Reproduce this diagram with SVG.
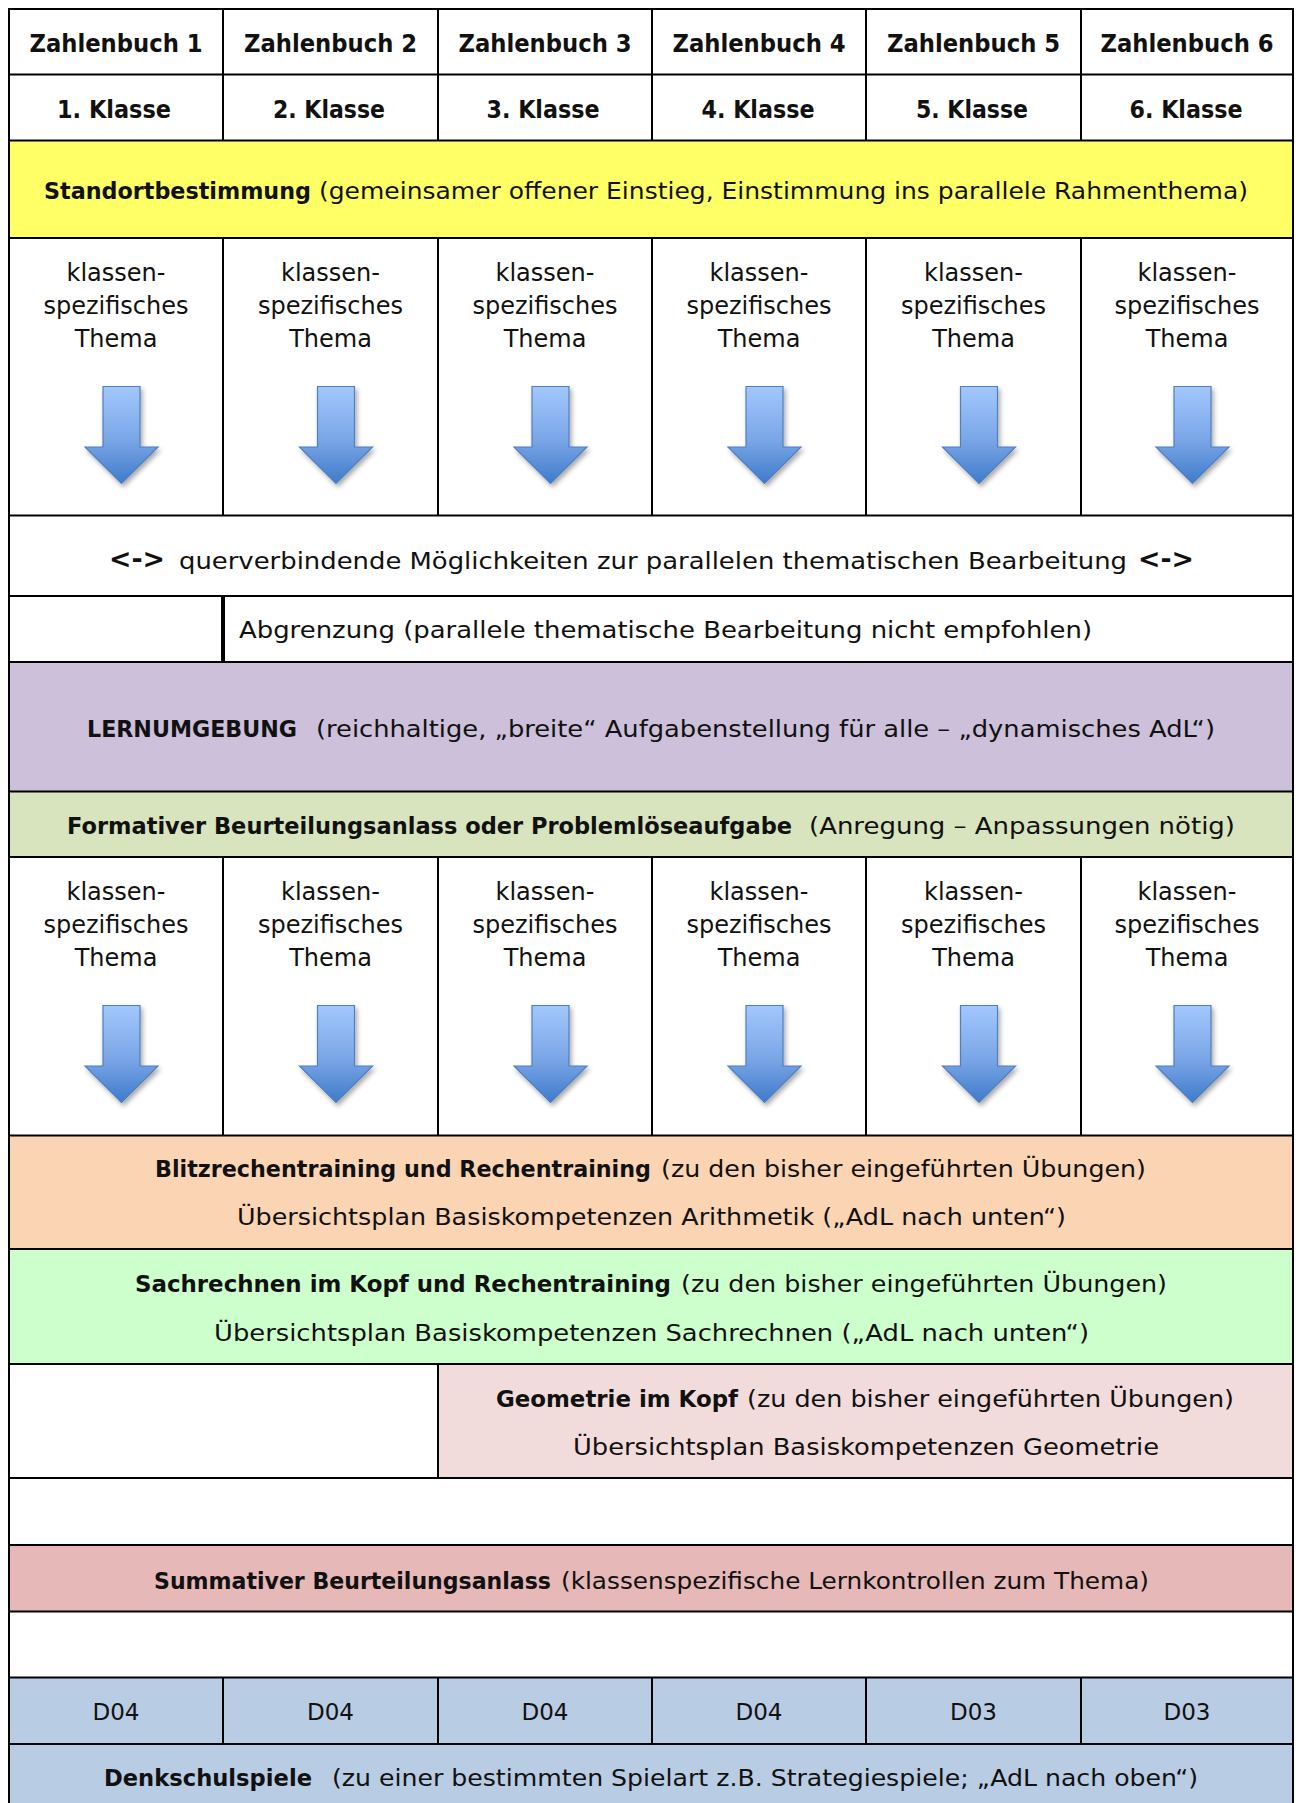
<svg xmlns="http://www.w3.org/2000/svg" xmlns:xlink="http://www.w3.org/1999/xlink" width="1298" height="1803" viewBox="0 0 1298 1803">
<style>
text{font-family:"DejaVu Sans","Liberation Sans",sans-serif;fill:#111;}
.b{font-weight:bold;}
.h{font-size:24px;font-weight:bold;}
.t{font-size:23.5px;}
.a{font-size:27px;font-weight:bold;}
.k{font-size:24px;text-anchor:middle;}
.m{text-anchor:middle;}
.ln{stroke:#000;stroke-width:2;fill:none;}
.thick{stroke:#000;stroke-width:4;}
</style>
<defs>
<linearGradient id="ag" x1="0" y1="0" x2="0" y2="1">
<stop offset="0" stop-color="#a3c7fd"/>
<stop offset="0.55" stop-color="#7aa6e6"/>
<stop offset="1" stop-color="#3f7bcb"/>
</linearGradient>
<filter id="sh" x="-30%" y="-20%" width="170%" height="150%">
<feDropShadow dx="2" dy="3" stdDeviation="2.5" flood-color="#000" flood-opacity="0.35"/>
</filter>
<path id="arrow" d="M -18.5 0 H 18.5 V 60.5 H 36.5 L 0 97 L -36.5 60.5 H -18.5 Z" fill="url(#ag)" stroke="#4f7fbf" stroke-width="1.2" filter="url(#sh)"/>
</defs>
<rect x="0" y="0" width="1298" height="1803" fill="#fff"/>

<g id="fills">
<rect x="9" y="140.5" width="1284" height="97.5" fill="#ffff66"/>
<rect x="9" y="662" width="1284" height="129.5" fill="#ccc0da"/>
<rect x="9" y="791.5" width="1284" height="65.5" fill="#d7e4bd"/>
<rect x="9" y="1135.5" width="1284" height="113.5" fill="#fbd4b4"/>
<rect x="9" y="1249" width="1284" height="115" fill="#ccffcc"/>
<rect x="438" y="1364" width="855" height="114" fill="#f2dcdb"/>
<rect x="9" y="1545" width="1284" height="66.5" fill="#e6b8b7"/>
<rect x="9" y="1677.5" width="1284" height="126" fill="#b8cce4"/>
</g>

<g id="connectors">
<path class="ln" d="M9 1803 V9 H1293 V1803"/>
<path class="ln" d="M9 74.5 H1293 M9 140.5 H1293 M9 238 H1293 M9 515.5 H1293 M9 596 H1293 M9 662 H1293 M9 791.5 H1293 M9 857 H1293 M9 1135.5 H1293 M9 1249 H1293 M9 1364 H1293 M9 1478 H1293 M9 1545 H1293 M9 1611.5 H1293 M9 1677.5 H1293 M9 1744 H1293"/>
<path class="ln" d="M223 9 V140.5 M438 9 V140.5 M652 9 V140.5 M866 9 V140.5 M1081 9 V140.5"/>
<path class="ln" d="M223 238 V515.5 M438 238 V515.5 M652 238 V515.5 M866 238 V515.5 M1081 238 V515.5"/>
<path class="ln" d="M223 857 V1135.5 M438 857 V1135.5 M652 857 V1135.5 M866 857 V1135.5 M1081 857 V1135.5"/>
<path class="ln" d="M223 1677.5 V1744 M438 1677.5 V1744 M652 1677.5 V1744 M866 1677.5 V1744 M1081 1677.5 V1744"/>
<path class="ln" d="M438 1364 V1478"/>
<line class="thick" x1="223" y1="596" x2="223" y2="662"/>
</g>

<g id="header-books">
<text class="h m" x="116" y="52" textLength="173" lengthAdjust="spacingAndGlyphs">Zahlenbuch 1</text>
<text class="h m" x="330.5" y="52" textLength="173" lengthAdjust="spacingAndGlyphs">Zahlenbuch 2</text>
<text class="h m" x="545" y="52" textLength="173" lengthAdjust="spacingAndGlyphs">Zahlenbuch 3</text>
<text class="h m" x="759" y="52" textLength="173" lengthAdjust="spacingAndGlyphs">Zahlenbuch 4</text>
<text class="h m" x="973.5" y="52" textLength="173" lengthAdjust="spacingAndGlyphs">Zahlenbuch 5</text>
<text class="h m" x="1187" y="52" textLength="173" lengthAdjust="spacingAndGlyphs">Zahlenbuch 6</text>
</g>
<g id="header-classes">
<text class="h m" x="114" y="118" textLength="114" lengthAdjust="spacingAndGlyphs">1. Klasse</text>
<text class="h m" x="329" y="118" textLength="112" lengthAdjust="spacingAndGlyphs">2. Klasse</text>
<text class="h m" x="543" y="118" textLength="113" lengthAdjust="spacingAndGlyphs">3. Klasse</text>
<text class="h m" x="758" y="118" textLength="113" lengthAdjust="spacingAndGlyphs">4. Klasse</text>
<text class="h m" x="972" y="118" textLength="112" lengthAdjust="spacingAndGlyphs">5. Klasse</text>
<text class="h m" x="1186" y="118" textLength="113" lengthAdjust="spacingAndGlyphs">6. Klasse</text>
</g>

<g id="standortbestimmung">
<text class="t b" x="44" y="199" textLength="267" lengthAdjust="spacingAndGlyphs">Standortbestimmung</text>
<text class="t" x="319" y="199" textLength="929" lengthAdjust="spacingAndGlyphs">(gemeinsamer offener Einstieg, Einstimmung ins parallele Rahmenthema)</text>
</g>

<g id="themen-1">
<g id="thema-1-1"><text class="k" x="116" y="281">klassen-</text><text class="k" x="116" y="314">spezifisches</text><text class="k" x="116" y="347">Thema</text><use href="#arrow" x="121.5" y="386.5"/></g>
<g id="thema-1-2"><text class="k" x="330.5" y="281">klassen-</text><text class="k" x="330.5" y="314">spezifisches</text><text class="k" x="330.5" y="347">Thema</text><use href="#arrow" x="336" y="386.5"/></g>
<g id="thema-1-3"><text class="k" x="545" y="281">klassen-</text><text class="k" x="545" y="314">spezifisches</text><text class="k" x="545" y="347">Thema</text><use href="#arrow" x="550.5" y="386.5"/></g>
<g id="thema-1-4"><text class="k" x="759" y="281">klassen-</text><text class="k" x="759" y="314">spezifisches</text><text class="k" x="759" y="347">Thema</text><use href="#arrow" x="764.5" y="386.5"/></g>
<g id="thema-1-5"><text class="k" x="973.5" y="281">klassen-</text><text class="k" x="973.5" y="314">spezifisches</text><text class="k" x="973.5" y="347">Thema</text><use href="#arrow" x="979" y="386.5"/></g>
<g id="thema-1-6"><text class="k" x="1187" y="281">klassen-</text><text class="k" x="1187" y="314">spezifisches</text><text class="k" x="1187" y="347">Thema</text><use href="#arrow" x="1192.5" y="386.5"/></g>
</g>

<g id="querverbindung">
<text class="a" x="109" y="568" textLength="56" lengthAdjust="spacingAndGlyphs">&lt;-&gt;</text>
<text class="t" x="179" y="569" textLength="948" lengthAdjust="spacingAndGlyphs">querverbindende Möglichkeiten zur parallelen thematischen Bearbeitung</text>
<text class="a" x="1138" y="568" textLength="56" lengthAdjust="spacingAndGlyphs">&lt;-&gt;</text>
</g>

<g id="abgrenzung">
<text class="t" x="239" y="638" textLength="853" lengthAdjust="spacingAndGlyphs">Abgrenzung (parallele thematische Bearbeitung nicht empfohlen)</text>
</g>

<g id="lernumgebung">
<text class="t b" x="87" y="737" textLength="210" lengthAdjust="spacingAndGlyphs">LERNUMGEBUNG</text>
<text class="t" x="316" y="737" textLength="899" lengthAdjust="spacingAndGlyphs">(reichhaltige, „breite“ Aufgabenstellung für alle – „dynamisches AdL“)</text>
</g>

<g id="formativer">
<text class="t b" x="67" y="834" textLength="725" lengthAdjust="spacingAndGlyphs">Formativer Beurteilungsanlass oder Problemlöseaufgabe</text>
<text class="t" x="809" y="834" textLength="426" lengthAdjust="spacingAndGlyphs">(Anregung – Anpassungen nötig)</text>
</g>

<g id="themen-2">
<g id="thema-2-1"><text class="k" x="116" y="900">klassen-</text><text class="k" x="116" y="933">spezifisches</text><text class="k" x="116" y="966">Thema</text><use href="#arrow" x="121.5" y="1005.5"/></g>
<g id="thema-2-2"><text class="k" x="330.5" y="900">klassen-</text><text class="k" x="330.5" y="933">spezifisches</text><text class="k" x="330.5" y="966">Thema</text><use href="#arrow" x="336" y="1005.5"/></g>
<g id="thema-2-3"><text class="k" x="545" y="900">klassen-</text><text class="k" x="545" y="933">spezifisches</text><text class="k" x="545" y="966">Thema</text><use href="#arrow" x="550.5" y="1005.5"/></g>
<g id="thema-2-4"><text class="k" x="759" y="900">klassen-</text><text class="k" x="759" y="933">spezifisches</text><text class="k" x="759" y="966">Thema</text><use href="#arrow" x="764.5" y="1005.5"/></g>
<g id="thema-2-5"><text class="k" x="973.5" y="900">klassen-</text><text class="k" x="973.5" y="933">spezifisches</text><text class="k" x="973.5" y="966">Thema</text><use href="#arrow" x="979" y="1005.5"/></g>
<g id="thema-2-6"><text class="k" x="1187" y="900">klassen-</text><text class="k" x="1187" y="933">spezifisches</text><text class="k" x="1187" y="966">Thema</text><use href="#arrow" x="1192.5" y="1005.5"/></g>
</g>

<g id="blitzrechnen">
<text class="t b" x="155" y="1177" textLength="496" lengthAdjust="spacingAndGlyphs">Blitzrechentraining und Rechentraining</text>
<text class="t" x="661" y="1177" textLength="485" lengthAdjust="spacingAndGlyphs">(zu den bisher eingeführten Übungen)</text>
<text class="t" x="237" y="1225" textLength="829" lengthAdjust="spacingAndGlyphs">Übersichtsplan Basiskompetenzen Arithmetik („AdL nach unten“)</text>
</g>

<g id="sachrechnen">
<text class="t b" x="135" y="1292" textLength="536" lengthAdjust="spacingAndGlyphs">Sachrechnen im Kopf und Rechentraining</text>
<text class="t" x="681" y="1292" textLength="486" lengthAdjust="spacingAndGlyphs">(zu den bisher eingeführten Übungen)</text>
<text class="t" x="214" y="1341" textLength="875" lengthAdjust="spacingAndGlyphs">Übersichtsplan Basiskompetenzen Sachrechnen („AdL nach unten“)</text>
</g>

<g id="geometrie">
<text class="t b" x="496" y="1407" textLength="242" lengthAdjust="spacingAndGlyphs">Geometrie im Kopf</text>
<text class="t" x="747" y="1407" textLength="487" lengthAdjust="spacingAndGlyphs">(zu den bisher eingeführten Übungen)</text>
<text class="t" x="573" y="1455" textLength="586" lengthAdjust="spacingAndGlyphs">Übersichtsplan Basiskompetenzen Geometrie</text>
</g>

<g id="summativer">
<text class="t b" x="154" y="1589" textLength="397" lengthAdjust="spacingAndGlyphs">Summativer Beurteilungsanlass</text>
<text class="t" x="561" y="1589" textLength="588" lengthAdjust="spacingAndGlyphs">(klassenspezifische Lernkontrollen zum Thema)</text>
</g>

<g id="denkschule-codes">
<text class="t m" x="116" y="1720" textLength="47" lengthAdjust="spacingAndGlyphs">D04</text>
<text class="t m" x="330.5" y="1720" textLength="47" lengthAdjust="spacingAndGlyphs">D04</text>
<text class="t m" x="545" y="1720" textLength="47" lengthAdjust="spacingAndGlyphs">D04</text>
<text class="t m" x="759" y="1720" textLength="47" lengthAdjust="spacingAndGlyphs">D04</text>
<text class="t m" x="973.5" y="1720" textLength="47" lengthAdjust="spacingAndGlyphs">D03</text>
<text class="t m" x="1187" y="1720" textLength="47" lengthAdjust="spacingAndGlyphs">D03</text>
</g>

<g id="denkschulspiele">
<text class="t b" x="104" y="1786" textLength="208" lengthAdjust="spacingAndGlyphs">Denkschulspiele</text>
<text class="t" x="332" y="1786" textLength="866" lengthAdjust="spacingAndGlyphs">(zu einer bestimmten Spielart z.B. Strategiespiele; „AdL nach oben“)</text>
</g>
</svg>
